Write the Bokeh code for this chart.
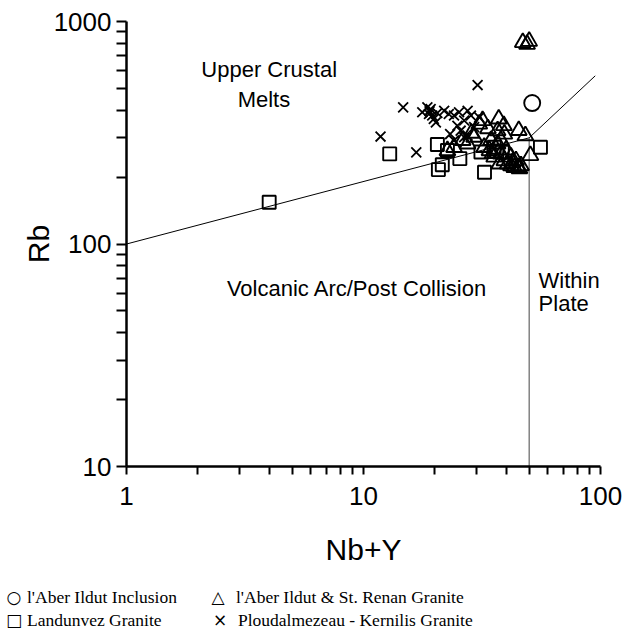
from bokeh.plotting import figure
from bokeh.layouts import column
from bokeh.models import Range1d, FixedTicker, ColumnDataSource, PrintfTickFormatter, Div
from bokeh.core.properties import value
from bokeh.embed import file_html
from bokeh.resources import INLINE

# ---------------- data ----------------
incl_nby = [51.5]
incl_rb = [430]

aber_nby = [47, 50, 49,
            37.2, 39.1, 45.2, 48.2, 50.6, 30.8, 31.8, 27.5, 26.2, 24.1, 22.6, 29.3,
            34.5, 36.8, 38.0, 39.3, 40.6, 41.9, 43.3, 44.8, 46.2, 37.4, 35.6, 34.0,
            32.3, 41.9, 44.0, 39.3, 38.0, 36.8, 42.5, 45.5, 33.5, 28.5, 35.0, 40.0]
aber_rb = [805, 815, 790,
           365, 341, 324, 307, 250, 346, 359, 282, 292, 272, 263, 302,
           292, 282, 254, 237, 229, 225, 221, 221, 225, 229, 246, 263,
           272, 246, 237, 312, 292, 323, 232, 218, 330, 315, 255, 265]

land_nby = [4.0, 12.9, 20.5, 20.7, 21.5, 22.6, 25.5, 31.3, 32.4, 35.6, 55.8, 36.5, 38.5]
land_rb = [154, 254, 280, 216, 227, 263, 242, 259, 210, 272, 272, 262, 258]

plou_nby = [30.3, 14.7, 11.8, 16.7, 17.7, 18.6, 19.2, 19.5, 19.8, 20.2, 18.9, 21.9,
            22.9, 24.1, 25.3, 27.5, 28.4, 26.6, 24.9, 23.2, 25.7, 27.5, 29.3, 30.8,
            24.1, 26.6, 19.0, 20.5]
plou_rb = [518, 411, 304, 258, 391, 411, 404, 378, 365, 352, 384, 397,
           384, 378, 391, 397, 378, 359, 340, 312, 323, 307, 335, 371,
           292, 302, 395, 388]

# field boundaries
vag_x = [1, 50]
vag_y = [100, 300]
wpg_x = [50, 95]
wpg_y = [300, 570]
vert_x = [50, 50]
vert_y = [10, 300]

x_major = [1, 10, 100]
x_minor = [2, 3, 4, 5, 6, 7, 8, 9, 20, 30, 40, 50, 60, 70, 80, 90]
y_major = [10, 100, 1000]
y_minor = [20, 30, 40, 50, 60, 70, 80, 90, 200, 300, 400, 500, 600, 700, 800, 900]

field_text = ["Upper Crustal", "Melts", "Volcanic Arc/Post Collision", "Within", "Plate"]
field_x = [4.0, 3.8, 9.4, 54.8, 54.8]
field_y = [610, 445, 63, 68.6, 54.1]
field_align = ["center", "center", "center", "left", "left"]

legend_symbols = ["\u25CB", "\u25B3", "\u25A1", "\u00D7"]
legend_labels = ["l'Aber Ildut Inclusion", "l'Aber Ildut & St. Renan Granite",
                 "Landunvez Granite", "Ploudalmezeau - Kernilis Granite"]

# ---------------- main plot ----------------
SANS = "Liberation Sans"
p = figure(width=623, height=580, x_axis_type="log", y_axis_type="log",
           x_range=Range1d(1, 100), y_range=Range1d(10, 1000),
           output_backend="svg", toolbar_location=None,
           min_border_left=126, min_border_right=23, min_border_top=21,
           min_border_bottom=114, x_axis_label="Nb+Y", y_axis_label="Rb")
p.outline_line_color = None
p.xgrid.visible = False
p.ygrid.visible = False
p.background_fill_color = "white"

p.xaxis.ticker = FixedTicker(ticks=x_major, minor_ticks=x_minor)
p.yaxis.ticker = FixedTicker(ticks=y_major, minor_ticks=y_minor)
for ax in (p.xaxis[0], p.yaxis[0]):
    ax.formatter = PrintfTickFormatter(format="%d")
    ax.axis_line_width = 2.5
    ax.axis_line_color = "black"
    ax.major_tick_line_width = 2
    ax.minor_tick_line_width = 2
    ax.major_tick_line_color = "black"
    ax.minor_tick_line_color = "black"
    ax.major_tick_in = 0
    ax.minor_tick_in = 0
    ax.major_label_text_font = SANS
    ax.major_label_text_font_size = "26px"
    ax.major_label_text_color = "black"
    ax.axis_label_text_font = SANS
    ax.axis_label_text_font_size = "30px"
    ax.axis_label_text_font_style = "normal"
    ax.axis_label_text_color = "black"
p.xaxis.major_tick_out = 8
p.xaxis.minor_tick_out = 8
p.yaxis.major_tick_out = 10
p.yaxis.minor_tick_out = 10
p.xaxis.major_label_standoff = 12
p.yaxis.major_label_standoff = 5
p.xaxis.axis_label_standoff = 25
p.yaxis.axis_label_standoff = -4
p.xaxis.bounds = (1, 100)
p.yaxis.bounds = (10, 1000)

p.line(vag_x, vag_y, line_color="black", line_width=1)
p.line(wpg_x, wpg_y, line_color="black", line_width=1)
p.line(vert_x, vert_y, line_color="#444444", line_width=1)

mk = dict(fill_color=None, line_color="black", line_width=1.9)
p.scatter(land_nby, land_rb, marker="square", size=13, **mk)
p.scatter(aber_nby, aber_rb, marker="triangle", size=16, **mk)
p.scatter(plou_nby, plou_rb, marker="x", size=14, line_color="black", line_width=1.8)
p.scatter(incl_nby, incl_rb, marker="circle", size=16, **mk)

fsrc = ColumnDataSource(dict(x=field_x, y=field_y, t=field_text, a=field_align))
p.text(x="x", y="y", text="t", text_align="a", source=fsrc, text_baseline="middle",
       text_font=value(SANS), text_font_size="22px", text_color="black")

# ---------------- legend strip (HTML, two columns) ----------------
sym_left = [2, 206, 2, 208]
txt_left = [27, 236, 27, 238]
row_top = [5, 5, 28, 28]
parts = []
for s, t, sl, tl, rt in zip(legend_symbols, legend_labels, sym_left, txt_left, row_top):
    parts.append(f'<span style="position:absolute;left:{sl}px;top:{rt}px;width:24px;'
                 f'text-align:center;line-height:24px;font-family:\'DejaVu Sans\';font-size:17px;">{s}</span>')
    t_html = t.replace("&", "&amp;")
    parts.append(f'<span style="position:absolute;left:{tl}px;top:{rt}px;line-height:24px;'
                 f'white-space:nowrap;">{t_html}</span>')
html = ('<div style="position:relative;width:623px;height:62px;'
        'font-family:\'Liberation Serif\';font-size:17.5px;color:black;">' + "".join(parts) + '</div>')
legend_div = Div(text=html, width=623, height=62, margin=0)

layout = column(p, legend_div, spacing=0)
open("out.html", "w").write(file_html(layout, INLINE))
